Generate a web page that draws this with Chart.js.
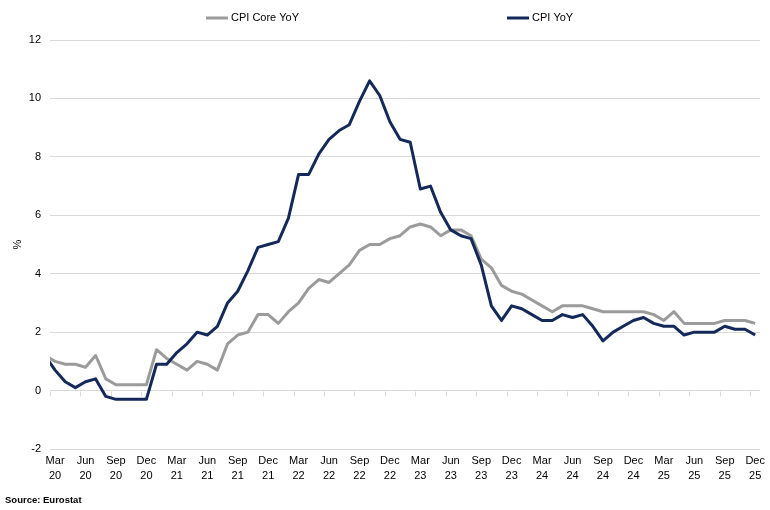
<!DOCTYPE html>
<html><head><meta charset="utf-8">
<script src="https://cdn.jsdelivr.net/npm/chart.js@4/dist/chart.umd.min.js"></script>
<style>html,body{margin:0;padding:0;background:#fff}#wrap{width:770px;height:510px;position:relative}</style>
</head><body><div id="wrap"><canvas id="c" width="770" height="510"></canvas></div>
<script>
// ---- data ----
// Feb 20 sits just left of the visible axis (the reference clips that first segment at the plot edge)
const categories = [
 "Feb 20","Mar 20","Apr 20","May 20","Jun 20","Jul 20","Aug 20","Sep 20","Oct 20","Nov 20","Dec 20",
 "Jan 21","Feb 21","Mar 21","Apr 21","May 21","Jun 21","Jul 21","Aug 21","Sep 21","Oct 21","Nov 21","Dec 21",
 "Jan 22","Feb 22","Mar 22","Apr 22","May 22","Jun 22","Jul 22","Aug 22","Sep 22","Oct 22","Nov 22","Dec 22",
 "Jan 23","Feb 23","Mar 23","Apr 23","May 23","Jun 23","Jul 23","Aug 23","Sep 23","Oct 23","Nov 23","Dec 23",
 "Jan 24","Feb 24","Mar 24","Apr 24","May 24","Jun 24","Jul 24","Aug 24","Sep 24","Oct 24","Nov 24","Dec 24",
 "Jan 25","Feb 25","Mar 25","Apr 25","May 25","Jun 25","Jul 25","Aug 25","Sep 25","Oct 25","Nov 25","Dec 25"
];
const firstVisible = "Mar 20";
const tickLabels = [
 "Mar 20","Jun 20","Sep 20","Dec 20","Mar 21","Jun 21","Sep 21","Dec 21",
 "Mar 22","Jun 22","Sep 22","Dec 22","Mar 23","Jun 23","Sep 23","Dec 23",
 "Mar 24","Jun 24","Sep 24","Dec 24","Mar 25","Jun 25","Sep 25","Dec 25"
];
const cpiCoreYoY = [
 1.2,1.0,0.9,0.9,0.8,1.2,0.4,0.2,0.2,0.2,0.2,
 1.4,1.1,0.9,0.7,1.0,0.9,0.7,1.6,1.9,2.0,2.6,2.6,
 2.3,2.7,3.0,3.5,3.8,3.7,4.0,4.3,4.8,5.0,5.0,5.2,
 5.3,5.6,5.7,5.6,5.3,5.5,5.5,5.3,4.5,4.2,3.6,3.4,
 3.3,3.1,2.9,2.7,2.9,2.9,2.9,2.8,2.7,2.7,2.7,2.7,
 2.7,2.6,2.4,2.7,2.3,2.3,2.3,2.3,2.4,2.4,2.4,2.3
];
const cpiYoY = [
 1.2,0.7,0.3,0.1,0.3,0.4,-0.2,-0.3,-0.3,-0.3,-0.3,
 0.9,0.9,1.3,1.6,2.0,1.9,2.2,3.0,3.4,4.1,4.9,5.0,
 5.1,5.9,7.4,7.4,8.1,8.6,8.9,9.1,9.9,10.6,10.1,9.2,
 8.6,8.5,6.9,7.0,6.1,5.5,5.3,5.2,4.3,2.9,2.4,2.9,
 2.8,2.6,2.4,2.4,2.6,2.5,2.6,2.2,1.7,2.0,2.2,2.4,
 2.5,2.3,2.2,2.2,1.9,2.0,2.0,2.0,2.2,2.1,2.1,1.9
];
const seriesNames = ["CPI Core YoY","CPI YoY"];
const yMin = -2, yMax = 12, yStep = 2;
const yAxisTitle = "%";
const sourceNote = "Source: Eurostat";

// ---- styling ----
const FONT = "'Liberation Sans', Arial, sans-serif";
const GRAY = '#9b9b9b';
const NAVY = '#14295a';
const GRID = '#d9d9d9';

const decor = {
  id: 'decor',
  beforeDatasetsDraw(chart) {
    const xs = chart.scales.x, ys = chart.scales.y, ctx = chart.ctx;
    const y0 = Math.round(ys.getPixelForValue(0)) + 0.5;
    const half = (xs.getPixelForValue(2) - xs.getPixelForValue(1)) / 2;
    ctx.save();
    ctx.strokeStyle = GRID; ctx.lineWidth = 1;
    ctx.beginPath();
    categories.forEach((c, i) => {
      if (tickLabels.includes(c)) {
        const px = Math.round(xs.getPixelForValue(i) - half) + 0.5;
        ctx.moveTo(px, y0); ctx.lineTo(px, y0 + 5);
      }
    });
    ctx.stroke();
    ctx.restore();
  },
  afterDraw(chart) {
    const ctx = chart.ctx, ca = chart.chartArea;
    ctx.save();
    const items = [
      {name: seriesNames[0], color: GRAY, x: 206},
      {name: seriesNames[1], color: NAVY, x: 507}
    ];
    ctx.font = '11px ' + FONT;
    ctx.textBaseline = 'middle';
    items.forEach(it => {
      ctx.strokeStyle = it.color; ctx.lineWidth = 3; ctx.lineCap = 'butt';
      ctx.beginPath(); ctx.moveTo(it.x, 18); ctx.lineTo(it.x + 22, 18); ctx.stroke();
      ctx.fillStyle = '#000'; ctx.textAlign = 'left';
      ctx.fillText(it.name, it.x + 25, 18);
    });
    ctx.save();
    ctx.translate(18, (ca.top + ca.bottom) / 2);
    ctx.rotate(-Math.PI / 2);
    ctx.textAlign = 'center';
    ctx.fillText(yAxisTitle, 0, 0);
    ctx.restore();
    ctx.font = 'bold 9.5px ' + FONT;
    ctx.textAlign = 'left';
    ctx.fillText(sourceNote, 5, 500);
    ctx.restore();
  }
};

const clipArea = {left: 0, right: 3, top: 3, bottom: 3};

new Chart(document.getElementById('c'), {
  type: 'line',
  data: {
    labels: categories,
    datasets: [
      {label: seriesNames[0], data: cpiCoreYoY, borderColor: GRAY, backgroundColor: GRAY,
       borderWidth: 3, pointRadius: 0, tension: 0, borderJoinStyle: 'round', order: 1, clip: clipArea},
      {label: seriesNames[1], data: cpiYoY, borderColor: NAVY, backgroundColor: NAVY,
       borderWidth: 3, pointRadius: 0, tension: 0, borderJoinStyle: 'round', order: 0, clip: clipArea}
    ]
  },
  options: {
    responsive: false,
    devicePixelRatio: 1,
    animation: false,
    layout: {padding: {top: 40, right: 8, bottom: 0, left: 0}},
    plugins: {legend: {display: false}, tooltip: {enabled: false}},
    scales: {
      x: {
        type: 'category',
        min: firstVisible,
        offset: true,
        grid: {display: false, drawTicks: false},
        border: {display: false},
        ticks: {
          autoSkip: false, maxRotation: 0, minRotation: 0, padding: 5,
          color: '#000', font: {family: FONT, size: 11, lineHeight: 1.35},
          callback: function(v) {
            const lab = categories[v];
            return tickLabels.includes(lab) ? lab.split(' ') : null;
          }
        },
        afterFit(s) { s.height = 61; }
      },
      y: {
        min: yMin, max: yMax,
        grid: {color: GRID, drawTicks: false, lineWidth: 1},
        border: {display: false},
        ticks: {stepSize: yStep, padding: 9, color: '#000', font: {family: FONT, size: 11}},
        afterFit(s) { s.width = 50; }
      }
    }
  },
  plugins: [decor]
});
</script>
</body></html>
